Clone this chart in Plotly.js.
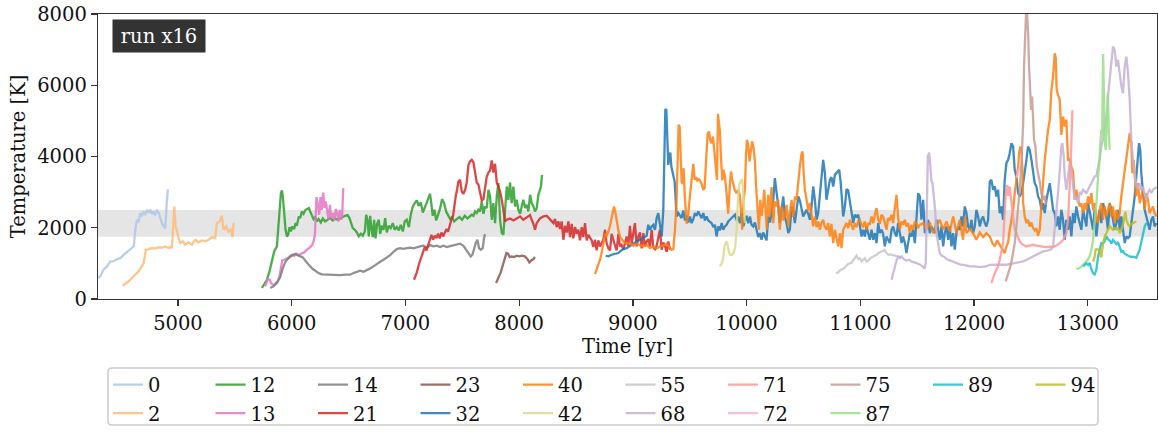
<!DOCTYPE html>
<html>
<head>
<meta charset="utf-8">
<script src="https://cdn.plot.ly/plotly-3.0.1.min.js"></script>
<style>
  html, body { margin: 0; padding: 0; background: #fff; }
  #chart { width: 1158px; height: 434px; }
</style>
</head>
<body>
<div id="chart"></div>
<script>
// Temperature histories of the individual runs: [time (yr), temperature (K)]
const s0 = [[4302,590],[4320,650],[4345,820],[4376,915],[4405,1055],[4435,1060],[4465,1120],[4495,1150],[4522,1240],[4550,1320],[4575,1400],[4595,1430],[4612,1480],[4625,1940],[4639,2220],[4654,2180],[4669,2410],[4684,2350],[4698,2440],[4713,2380],[4728,2500],[4742,2420],[4757,2510],[4771,2380],[4786,2460],[4800,2350],[4815,2500],[4830,2430],[4845,2250],[4859,2130],[4874,2040],[4888,1990],[4903,2780],[4912,3080]];
const s2 = [[4513,373],[4540,430],[4566,495],[4595,588],[4625,682],[4654,775],[4683,915],[4698,1009],[4713,1290],[4718,1383],[4742,1400],[4771,1430],[4800,1420],[4830,1450],[4860,1440],[4888,1476],[4918,1430],[4935,1460],[4947,1430],[4956,2037],[4968,2598],[4979,2037],[4991,1850],[5006,1710],[5020,1570],[5044,1617],[5064,1523],[5093,1590],[5123,1523],[5152,1663],[5181,1590],[5211,1645],[5240,1617],[5269,1663],[5299,1738],[5328,1710],[5342,2130],[5366,2177],[5386,2336],[5401,1944],[5424,2037],[5445,1897],[5465,1944],[5480,1738],[5489,2112],[5497,2130]];
const s12 = [[5738,308],[5758,401],[5782,541],[5805,775],[5826,1102],[5846,1336],[5870,1476],[5884,2037],[5893,2504],[5905,2971],[5914,3046],[5922,2878],[5934,2411],[5946,1943],[5958,1756],[5969,1803],[5981,2018],[5993,1896],[6004,2037],[6022,1962],[6034,2130],[6045,2055],[6063,2317],[6075,2271],[6089,2457],[6104,2392],[6122,2504],[6139,2523],[6151,2551],[6163,2457],[6177,2364],[6192,2243],[6207,2299],[6221,2177],[6236,2243],[6256,2149],[6274,2261],[6294,2177],[6315,2224],[6338,2271],[6362,2205],[6382,2261],[6403,2224],[6426,2271],[6450,2299],[6470,2336],[6491,2355],[6508,2271],[6523,2130],[6537,1990],[6555,1943],[6573,1868],[6590,1756],[6608,1831],[6625,1775],[6643,1896],[6655,2364],[6666,2224],[6678,1756],[6690,2336],[6701,1990],[6713,1738],[6725,2224],[6737,1700],[6751,2111],[6766,2224],[6778,1831],[6792,2055],[6807,1943],[6822,2271],[6836,1868],[6854,2055],[6871,1990],[6889,2130],[6906,1943],[6924,2018],[6942,1925],[6959,2084],[6977,1896],[6994,2177],[7012,2224],[7030,2018],[7047,2364],[7065,2598],[7082,2691],[7100,2766],[7117,2616],[7135,2710],[7153,2429],[7170,2598],[7188,2710],[7205,2859],[7217,2953],[7229,2644],[7240,2336],[7255,2504],[7270,2205],[7287,2364],[7305,2551],[7322,2803],[7340,2691],[7358,2457],[7375,2336],[7393,2243],[7410,2299],[7428,2177],[7451,2243],[7475,2299],[7498,2224],[7522,2336],[7545,2261],[7568,2317],[7583,2364],[7598,2336],[7612,2457],[7627,2411],[7642,2504],[7656,2457],[7671,2738],[7686,2392],[7700,2598],[7715,2551],[7730,3065],[7744,2878],[7759,2224],[7773,2691],[7788,2130],[7803,2878],[7817,3252],[7832,2224],[7847,1850],[7861,1803],[7876,2598],[7891,3158],[7905,2785],[7920,3271],[7934,2691],[7949,3158],[7964,2598],[7978,2785],[7993,2504],[8008,2392],[8022,2598],[8037,2785],[8052,2551],[8066,2644],[8081,2457],[8096,2925],[8110,2691],[8125,2598],[8139,2457],[8154,2551],[8169,2925],[8183,3065],[8192,3158],[8201,3486]];
const s13 = [[5767,354],[5788,560],[5805,541],[5823,429],[5840,392],[5858,448],[5875,495],[5893,635],[5905,868],[5917,1083],[5934,1102],[5952,1121],[5969,1149],[5987,1214],[6004,1242],[6022,1214],[6040,1270],[6057,1242],[6075,1252],[6092,1289],[6110,1308],[6127,1364],[6145,1401],[6163,1457],[6180,1513],[6192,1616],[6204,1803],[6212,2224],[6218,2859],[6230,2644],[6242,2364],[6253,2859],[6265,2504],[6277,2990],[6289,2551],[6300,2738],[6312,2457],[6324,2224],[6336,2644],[6347,2271],[6362,2411],[6376,2205],[6388,2523],[6400,2411],[6412,2177],[6423,2504],[6435,2224],[6444,2317],[6453,3112]];
const s14 = [[5811,308],[5840,354],[5870,448],[5899,616],[5922,868],[5943,1027],[5963,1121],[5987,1196],[6010,1242],[6031,1261],[6051,1233],[6075,1196],[6098,1168],[6119,1083],[6139,990],[6163,915],[6186,841],[6209,784],[6236,728],[6265,691],[6303,682],[6338,672],[6382,682],[6426,672],[6470,682],[6514,682],[6543,728],[6573,766],[6602,794],[6631,766],[6660,803],[6690,859],[6719,915],[6748,990],[6778,1046],[6807,1102],[6836,1158],[6866,1233],[6895,1326],[6924,1401],[6953,1429],[6983,1410],[7012,1429],[7041,1439],[7071,1420],[7100,1457],[7129,1476],[7159,1495],[7188,1439],[7217,1513],[7246,1476],[7276,1495],[7305,1457],[7334,1495],[7364,1457],[7393,1485],[7422,1504],[7451,1532],[7481,1551],[7510,1495],[7533,1382],[7554,1289],[7574,1196],[7589,1242],[7604,1429],[7618,1569],[7633,1663],[7647,1429],[7662,1382],[7680,1429],[7691,1710],[7700,1822]];
const s21 = [[7076,541],[7100,747],[7120,990],[7138,1149],[7156,1289],[7170,1457],[7185,1364],[7199,1523],[7214,1644],[7229,1803],[7243,1663],[7258,1775],[7273,1710],[7287,1831],[7302,1700],[7317,1868],[7331,1756],[7346,1868],[7361,1962],[7375,1887],[7390,2111],[7404,2224],[7419,2336],[7431,2644],[7443,2897],[7454,3065],[7466,3299],[7481,3345],[7495,3018],[7510,2953],[7525,3065],[7539,3271],[7554,3766],[7568,3860],[7583,3906],[7598,3831],[7612,3579],[7627,3271],[7642,3205],[7656,2971],[7671,2766],[7686,2803],[7700,3177],[7715,3439],[7730,3551],[7744,3607],[7759,3888],[7773,3551],[7788,3794],[7803,3271],[7817,3158],[7832,3018],[7847,2785],[7861,2485],[7876,2177],[7891,2224],[7920,2261],[7949,2205],[7978,2261],[8008,2317],[8037,2224],[8066,2299],[8096,2355],[8110,2224],[8125,2111],[8139,1943],[8154,2130],[8183,2261],[8213,2317],[8242,2336],[8271,2224],[8301,2130],[8315,2243],[8330,2018],[8345,2177],[8359,1962],[8374,2177],[8389,1663],[8403,2055],[8418,1868],[8433,2177],[8447,1738],[8462,2111],[8476,1700],[8491,2018],[8506,1831],[8520,1943],[8535,1644],[8550,2018],[8564,1738],[8579,2130],[8594,1644],[8608,1803],[8623,1738],[8638,1644],[8652,1457],[8667,1663],[8681,1364],[8696,1644],[8711,1476],[8725,1569],[8740,1663],[8755,1943],[8769,1569],[8784,1429],[8799,1364],[8813,1831],[8828,1616],[8843,1495],[8857,1364],[8872,1831],[8886,1476],[8901,1523],[8916,1382],[8930,1616],[8945,1756],[8960,1476],[8974,2055],[8989,1551],[9004,1850],[9018,2130],[9033,1476],[9048,1756],[9062,1868],[9077,1420],[9092,1850],[9106,1476],[9121,1616],[9135,1682],[9150,1476],[9165,1943],[9179,1457],[9194,1401],[9209,1495],[9223,1756],[9238,1943],[9253,1382],[9267,1588],[9282,1476],[9297,1326],[9311,1616],[9326,1382]];
const s23 = [[7797,448],[7817,588],[7838,747],[7855,934],[7873,1149],[7888,1289],[7902,1270],[7917,1177],[7934,1196],[7955,1177],[7978,1214],[8002,1196],[8025,1214],[8049,1196],[8072,1121],[8090,1027],[8107,1083],[8125,1121],[8139,1177]];
const s32 = [[8761,1214],[8784,1196],[8813,1242],[8843,1270],[8872,1289],[8887,1336],[8916,1401],[8945,1429],[8974,1495],[9004,1569],[9033,1616],[9062,1663],[9092,1710],[9121,1775],[9135,2083],[9150,1943],[9165,2037],[9179,2083],[9194,1943],[9209,2271],[9223,2411],[9238,2130],[9253,1756],[9267,2485],[9276,3999],[9285,5308],[9294,5327],[9302,4654],[9311,3766],[9320,3999],[9329,4112],[9338,3719],[9346,3579],[9355,3392],[9367,3299],[9376,2785],[9384,2317],[9399,2411],[9414,2336],[9428,2271],[9443,2485],[9458,2205],[9472,2336],[9487,2149],[9502,2317],[9516,2130],[9531,2243],[9546,2411],[9560,2336],[9575,2457],[9589,2364],[9604,2271],[9619,2411],[9633,2205],[9648,2317],[9663,2205],[9677,2168],[9692,2130],[9707,2018],[9721,2083],[9736,1756],[9751,2037],[9765,1925],[9780,2130],[9794,1943],[9809,2037],[9824,2083],[9838,2177],[9853,2224],[9868,2271],[9882,2317],[9897,2364],[9912,2205],[9926,2317],[9941,2130],[9956,2411],[9970,2037],[9985,2224],[9999,2336],[10014,2130],[10029,2317],[10043,2083],[10058,2037],[10073,2149],[10087,1943],[10102,1738],[10117,1850],[10131,1663],[10146,1868],[10161,1756],[10175,1644],[10190,2317],[10205,2149],[10219,2411],[10234,2785],[10248,3392],[10263,3065],[10278,2598],[10292,2130],[10307,2504],[10322,2878],[10336,2317],[10351,2130],[10366,1850],[10380,1943],[10395,2598],[10410,2485],[10424,2130],[10439,2504],[10454,2878],[10468,2766],[10483,2504],[10497,2317],[10512,2411],[10527,2504],[10541,2392],[10556,2224],[10571,2598],[10585,3158],[10600,2785],[10615,2224],[10629,2411],[10644,2878],[10659,3532],[10673,3906],[10688,3532],[10702,2785],[10717,3065],[10732,3345],[10746,3420],[10761,3158],[10776,3486],[10790,3532],[10805,3579],[10814,3626],[10826,3299],[10837,2878],[10849,2317],[10864,2598],[10878,3084],[10893,3046],[10908,2766],[10922,2485],[10937,2130],[10951,2364],[10966,2317],[10981,2364],[10995,2037],[11010,1756],[11025,1943],[11039,1756],[11054,2037],[11069,1850],[11083,1663],[11098,1943],[11113,1663],[11127,1850],[11142,1569],[11157,2130],[11171,1850],[11186,1943],[11200,1831],[11215,1476],[11230,1756],[11244,1663],[11259,1569],[11274,1943],[11288,2037],[11303,1850],[11318,1756],[11332,2130],[11347,1850],[11362,1569],[11376,1756],[11391,1569],[11405,1289],[11420,1569],[11435,1850],[11449,1756],[11464,1943],[11479,1569],[11493,2317],[11508,2971],[11523,2878],[11537,2224],[11552,2785],[11567,1850],[11581,2037],[11596,2224],[11610,1850],[11625,2037],[11640,1943],[11654,1850],[11669,2224],[11684,1943],[11698,1663],[11713,2037],[11728,1476],[11742,1850],[11757,2037],[11772,1663],[11786,2037],[11801,1476],[11816,1850],[11830,1383],[11845,1850],[11859,2037],[11874,1943],[11889,2317],[11903,2037],[11918,2598],[11933,2411],[11947,2037],[11962,1943],[11977,2224],[11991,1850],[12006,2037],[12020,2504],[12035,2317],[12050,2037],[12064,2224],[12079,2317],[12094,2130],[12108,2037],[12123,2224],[12130,2800],[12138,3300],[12152,3345],[12167,3065],[12182,3158],[12196,2878],[12211,3065],[12225,2411],[12240,2597],[12255,2224],[12261,2691],[12269,3345],[12284,3812],[12299,3906],[12313,4093],[12328,4373],[12343,4280],[12349,3906],[12357,3626],[12372,3439],[12387,2971],[12401,2878],[12416,2971],[12431,3252],[12445,3532],[12460,3906],[12474,4280],[12489,4186],[12504,3906],[12518,3532],[12533,3252],[12548,3158],[12562,2878],[12577,2784],[12592,2504],[12606,2691],[12621,2411],[12636,2784],[12650,3065],[12665,3252],[12680,2878],[12694,2504],[12709,2411],[12723,2037],[12738,2317],[12753,1943],[12767,2504],[12782,2224],[12797,1663],[12811,2224],[12826,1943],[12840,2317],[12855,1756],[12870,2411],[12884,2130],[12899,2597],[12914,2317],[12929,2130],[12943,1943],[12958,2504],[12972,2224],[12987,2037],[13002,2691],[13016,2411],[13031,2224],[13046,1943],[13060,2504],[13075,1756],[13090,2224],[13104,2504],[13119,2130],[13134,2691],[13148,2504],[13163,2317],[13177,1943],[13192,2691],[13207,2504],[13221,2224],[13236,1943],[13251,2130],[13265,2504],[13280,1943],[13294,2317],[13309,1943],[13324,1569],[13338,1756],[13353,1710],[13368,1756],[13382,2130],[13397,2504],[13412,2878],[13426,3439],[13441,3906],[13450,4373],[13461,4186],[13470,3532],[13485,2971],[13500,2504],[13514,2317],[13529,2130],[13543,1943],[13558,2224],[13573,2317],[13587,2037],[13602,2130]];
const s40 = [[8667,700],[8681,822],[8696,934],[8711,1102],[8725,1289],[8740,1616],[8755,1831],[8769,1775],[8784,1887],[8799,2055],[8813,2271],[8825,2551],[8834,2598],[8845,2457],[8857,2177],[8872,1925],[8886,1756],[8916,1616],[8945,1551],[8974,1569],[9004,1495],[9033,1551],[9062,1513],[9092,1476],[9121,1523],[9150,1429],[9179,1476],[9209,1420],[9238,1476],[9267,1495],[9297,1551],[9320,1476],[9340,1382],[9355,1401],[9370,1943],[9384,2785],[9393,4000],[9402,4888],[9411,4841],[9420,4000],[9428,3299],[9437,3233],[9446,3672],[9455,2971],[9464,2411],[9472,2111],[9484,2317],[9496,2785],[9507,3158],[9519,3439],[9531,3794],[9543,3345],[9554,3420],[9566,3327],[9578,3364],[9589,3327],[9604,3233],[9619,3065],[9630,3112],[9639,3719],[9648,4373],[9657,4635],[9669,4701],[9680,4467],[9692,4373],[9704,4560],[9715,4186],[9727,3626],[9739,3345],[9748,5196],[9756,5028],[9765,4701],[9774,4000],[9786,3327],[9797,3626],[9809,3439],[9821,3065],[9830,2691],[9838,2392],[9850,3065],[9862,3579],[9874,3345],[9885,3158],[9897,3046],[9912,2971],[9926,3065],[9941,2897],[9953,2130],[9961,1943],[9973,2785],[9985,3065],[9994,4000],[10002,4467],[10014,4327],[10026,3859],[10038,4186],[10049,4420],[10061,4233],[10073,3859],[10084,3112],[10096,2317],[10108,1943],[10120,2785],[10131,2336],[10143,2598],[10155,3065],[10166,2504],[10178,1943],[10190,2925],[10202,2317],[10219,3140],[10234,2130],[10248,2738],[10263,2598],[10278,2785],[10292,1943],[10307,2598],[10322,2205],[10336,2336],[10351,2644],[10366,2037],[10380,2504],[10395,2785],[10410,2299],[10424,2878],[10439,2785],[10454,3364],[10468,3738],[10483,4074],[10492,4140],[10500,3626],[10512,3065],[10527,2785],[10541,2485],[10556,2691],[10571,2299],[10585,2037],[10600,2317],[10615,2018],[10629,2177],[10644,1943],[10659,2149],[10673,2224],[10688,2018],[10702,1943],[10717,2130],[10732,1756],[10746,2111],[10761,1569],[10776,1943],[10790,1756],[10805,1476],[10820,1850],[10834,1429],[10849,1943],[10864,2037],[10878,2130],[10893,1990],[10908,2224],[10922,2083],[10937,1943],[10951,2130],[10966,2018],[10981,2177],[10995,2224],[11010,2083],[11025,2037],[11039,2177],[11054,1943],[11069,2130],[11083,2083],[11098,2317],[11113,2130],[11127,2364],[11142,2551],[11157,2224],[11171,2111],[11186,2364],[11200,2317],[11215,2130],[11230,1943],[11244,2271],[11259,2224],[11274,2364],[11288,2130],[11303,2551],[11318,2925],[11332,2271],[11347,1943],[11362,2177],[11376,2083],[11391,2224],[11405,2037],[11420,2130],[11435,1850],[11449,2083],[11464,1943],[11479,2177],[11493,2130],[11508,1990],[11523,2083],[11552,2130],[11581,1943],[11610,2149],[11640,1850],[11669,2037],[11698,2224],[11728,1943],[11757,2177],[11786,1897],[11816,2317],[11845,1850],[11874,2224],[11903,1663],[11918,2317],[11933,1850],[11962,1962],[11991,1850],[12020,1663],[12050,1869],[12079,1738],[12108,1850],[12138,1756],[12161,1569],[12182,1476],[12202,1644],[12225,1523],[12249,1382],[12269,1289],[12284,1476],[12299,1588],[12313,1943],[12328,2224],[12343,2504],[12357,2971],[12372,3345],[12387,3719],[12395,4093],[12407,4280],[12416,4186],[12425,3626],[12431,2691],[12445,2317],[12460,2130],[12474,2224],[12489,2037],[12504,2149],[12518,1990],[12533,1924],[12548,1990],[12562,1775],[12577,1943],[12592,2504],[12606,3252],[12621,3906],[12636,4373],[12650,4747],[12665,5028],[12680,5869],[12694,6243],[12709,6898],[12718,6757],[12726,5869],[12738,5729],[12753,5589],[12767,4607],[12782,5122],[12797,4841],[12811,5028],[12826,3906],[12841,3925],[12855,3719],[12870,3579],[12885,2785],[12899,3065],[12914,2785],[12929,2598],[12943,2691],[12958,2411],[12972,2691],[12987,2504],[13002,2878],[13016,2672],[13031,2971],[13046,2504],[13060,2691],[13075,2317],[13090,2130],[13104,2504],[13119,2691],[13134,2224],[13148,2597],[13163,2317],[13177,2504],[13192,2691],[13207,2299],[13221,2597],[13236,2130],[13251,2504],[13265,2224],[13280,2411],[13294,2878],[13309,3252],[13324,3626],[13338,3999],[13353,4373],[13368,4654],[13382,4373],[13391,3532],[13403,3906],[13412,3345],[13426,2878],[13441,3252],[13456,2691],[13470,2878],[13485,3065],[13500,2504],[13514,2971],[13529,2784],[13543,2411],[13558,2504],[13573,2597],[13587,2411],[13602,2317]];
const s42 = [[9765,915],[9780,990],[9794,1149],[9806,1476],[9818,1616],[9830,1569],[9841,1364],[9853,1242],[9871,1233],[9888,1308],[9900,1476],[9912,1943],[9923,2785],[9935,3205],[9947,3299],[9959,3364],[9967,3158],[9976,2598],[9985,2130]];
const s55 = [[10785,728],[10805,747],[10826,822],[10849,840],[10872,915],[10896,990],[10919,1009],[10937,1083],[10951,1149],[10966,1214],[10981,1121],[10995,1149],[11010,1055],[11025,1102],[11039,1149],[11054,1055],[11072,1083],[11089,1149],[11107,1177],[11124,1214],[11142,1242],[11159,1289],[11177,1308],[11195,1345],[11212,1382],[11230,1289],[11247,1242],[11265,1252],[11288,1233],[11312,1214],[11335,1196],[11353,1177]];
const s68 = [[11274,541],[11288,682],[11303,897],[11318,1083],[11332,1177],[11347,1149],[11362,1196],[11382,1121],[11405,1083],[11429,1102],[11452,1046],[11476,1027],[11499,1009],[11523,971],[11546,915],[11564,859],[11575,1009],[11584,2317],[11593,4000],[11605,4112],[11616,3720],[11625,3299],[11634,3252],[11646,2878],[11657,2504],[11669,1850],[11684,1476],[11698,1289],[11716,1214],[11733,1196],[11757,1121],[11786,1083],[11816,1027],[11845,1009],[11874,971],[11918,953],[11962,915],[12006,915],[12050,897],[12108,915],[12138,960],[12211,962],[12284,962],[12357,1009],[12431,1055],[12474,1121],[12518,1196],[12562,1270],[12606,1336],[12650,1364],[12680,1401],[12694,1476],[12709,1943],[12723,2504],[12738,2971],[12753,3626],[12767,4280],[12776,4373],[12788,4000],[12797,3439],[12811,3065],[12826,3439],[12840,3812],[12855,3626],[12870,3065],[12884,2784],[12899,2878],[12914,2691],[12929,3000],[12943,2950],[12958,3065],[12987,2971],[13016,3158],[13046,3345],[13060,3439],[13075,3450],[13090,3700],[13104,3950],[13119,4300],[13134,4500],[13148,4800],[13163,5100],[13177,5700],[13192,6243],[13207,6711],[13221,7085],[13236,6991],[13251,6524],[13265,6711],[13280,6243],[13295,5963],[13309,5776],[13324,6524],[13339,6804],[13353,6337],[13368,5589],[13382,4467],[13397,3906],[13412,3439],[13426,3158],[13441,3100],[13456,3250],[13470,3060],[13485,3150],[13500,2950],[13514,2784],[13529,3000],[13543,3065],[13558,2980],[13573,3070],[13587,3100],[13602,3150]];
const s71 = [[12152,448],[12167,600],[12182,728],[12196,820],[12211,915],[12225,1100],[12240,1300],[12255,1570],[12262,2000],[12269,2504],[12277,2900],[12284,3065],[12291,3200],[12299,2900],[12306,3100],[12313,3158],[12321,2900],[12328,2691],[12343,2224],[12357,1950],[12372,1850],[12387,1700],[12401,1616],[12416,1560],[12431,1522],[12460,1476],[12489,1500],[12518,1522],[12548,1500],[12577,1476],[12606,1470],[12636,1457],[12665,1470],[12694,1460],[12723,1500],[12753,1570],[12767,1600],[12782,1663],[12797,1750],[12811,1850],[12826,2224],[12840,2971],[12848,3700],[12855,4373],[12864,5300]];
const s72 = [[12372,3400],[12384,3560],[12395,3640],[12407,3720]];
const s75 = [[12278,494],[12299,728],[12319,915],[12337,1195],[12357,1570],[12372,2037],[12387,2504],[12401,3065],[12416,3800],[12431,4900],[12439,6524],[12448,7458],[12457,8060],[12466,8000],[12475,7458],[12483,6524],[12492,5589],[12501,5308],[12510,5682],[12518,5122],[12527,4467],[12539,4280],[12551,3720],[12562,3533],[12577,3300],[12592,2950],[12606,2785],[12620,2900],[12632,2650]];
const s87 = [[12899,841],[12928,868],[12958,962],[12987,1055],[13016,1195],[13031,1383],[13046,1663],[13060,2130],[13075,2691],[13090,3439],[13104,3906],[13110,4373],[13119,4747],[13126,4600],[13130,5800],[13134,6880],[13140,6000],[13148,4400],[13157,4187],[13165,4900],[13177,5776],[13184,4700],[13192,4187]];
const s89 = [[12958,915],[12972,960],[12987,1000],[13002,960],[13016,1010],[13031,830],[13046,730],[13060,690],[13075,820],[13090,1195],[13104,1383],[13119,1570],[13134,1560],[13148,1620],[13163,1756],[13177,1680],[13192,1640],[13207,1560],[13221,1660],[13236,1600],[13251,1540],[13265,1600],[13280,1420],[13294,1330],[13309,1350],[13324,1270],[13339,1242],[13353,1210],[13368,1195],[13382,1180],[13397,1190],[13412,1177],[13426,1160],[13441,1270],[13456,1383],[13470,1600],[13485,1850],[13500,2037],[13514,2130]];
const s94 = [[13046,1050],[13060,1195],[13068,1383],[13075,1400],[13090,1383],[13104,1380],[13112,1200],[13119,1195],[13134,1570],[13148,1756],[13163,1850],[13177,1943],[13192,2050],[13207,1990],[13221,1943],[13236,1990],[13251,1950],[13265,2000],[13280,1850],[13294,1950],[13309,2084],[13324,2350],[13331,2450],[13339,2223],[13353,2100],[13368,2037],[13382,2100],[13397,2130],[13412,2150],[13426,2177]];

// Run labels, series and colours (tab20 palette)
const runLabels = ['0','2','12','13','14','21','23','32','40','42','55','68','71','72','75','87','89','94'];
const runSeries = [s0,s2,s12,s13,s14,s21,s23,s32,s40,s42,s55,s68,s71,s72,s75,s87,s89,s94];
const runColors = ['#aec7e8','#ffbb78','#2ca02c','#e377c2','#7f7f7f','#d62728','#8c564b','#1f77b4','#ff7f0e','#dbdb8d','#c7c7c7','#c5b0d5','#ff9896','#f7b6d2','#c49c94','#98df8a','#17becf','#bcbd22'];
// Legend fills column by column (two rows, ten columns)
const legendOrder = ['0','12','14','23','40','55','71','75','89','94','2','13','21','32','42','68','72','87'];

// Shaded reference temperature band [K]
const bandLow = 1750, bandHigh = 2500;
const xTicks = [5000,6000,7000,8000,9000,10000,11000,12000,13000];
const yTicks = [0,2000,4000,6000,8000];

const FONT = 'DejaVu Serif, serif';
const FS = 19.5;

// Plot area in pixels, used to place the legend frame below the axes
const PLOT_W = 1158 - 98 - 1, PLOT_H = 434 - 14 - 135;
const px2x = p => (p - 98) / PLOT_W;
const px2y = p => (434 - 135 - p) / PLOT_H;

// Rounded legend frame as an SVG path in paper coordinates
function roundedFrame(l, t, r, b, rad) {
  const x0 = px2x(l), x1 = px2x(r), y0 = px2y(b), y1 = px2y(t);
  const dx = rad / PLOT_W, dy = rad / PLOT_H;
  return `M ${x0 + dx},${y1} L ${x1 - dx},${y1} Q ${x1},${y1} ${x1},${y1 - dy} ` +
         `L ${x1},${y0 + dy} Q ${x1},${y0} ${x1 - dx},${y0} ` +
         `L ${x0 + dx},${y0} Q ${x0},${y0} ${x0},${y0 + dy} ` +
         `L ${x0},${y1 - dy} Q ${x0},${y1} ${x0 + dx},${y1} Z`;
}

const traces = runSeries.map((s, i) => ({
  type: 'scatter',
  mode: 'lines',
  name: runLabels[i],
  x: s.map(p => p[0]),
  y: s.map(p => p[1]),
  line: { color: runColors[i], width: 2.3 },
  opacity: 0.85,
  legendrank: legendOrder.indexOf(runLabels[i]) + 1,
  hoverinfo: 'skip'
}));

const axisCommon = {
  showgrid: false,
  zeroline: false,
  showline: true,
  mirror: true,
  linecolor: '#333333',
  linewidth: 1.3,
  ticks: 'outside',
  ticklen: 6,
  tickwidth: 1.3,
  tickcolor: '#333333',
  tickfont: { family: FONT, size: FS, color: '#111' }
};

const layout = {
  width: 1158,
  height: 434,
  margin: { l: 98, r: 1, t: 14, b: 135, autoexpand: false },
  paper_bgcolor: '#ffffff',
  plot_bgcolor: '#ffffff',
  font: { family: FONT, size: FS, color: '#111' },
  showlegend: true,
  xaxis: Object.assign({}, axisCommon, {
    range: [4297, 13608],
    tickmode: 'array',
    tickvals: xTicks,
    ticktext: xTicks.map(String),
    title: { text: 'Time [yr]', font: { family: FONT, size: FS, color: '#111' }, standoff: 4 }
  }),
  yaxis: Object.assign({}, axisCommon, {
    range: [0, 8000],
    tickmode: 'array',
    tickvals: yTicks,
    ticktext: yTicks.map(String),
    title: { text: 'Temperature [K]', font: { family: FONT, size: FS, color: '#111' }, standoff: 6 }
  }),
  shapes: [
    {
      type: 'rect', xref: 'paper', yref: 'y',
      x0: 0, x1: 1, y0: bandLow, y1: bandHigh,
      fillcolor: 'rgba(0,0,0,0.1)', line: { width: 0 }, layer: 'below'
    },
    {
      type: 'path', xref: 'paper', yref: 'paper',
      path: roundedFrame(108, 368, 1098, 425, 4),
      fillcolor: 'rgba(255,255,255,0.8)',
      line: { color: '#cccccc', width: 1.5 }
    }
  ],
  annotations: [{
    xref: 'paper', yref: 'paper', x: px2x(112), y: px2y(19),
    xanchor: 'left', yanchor: 'top', showarrow: false,
    text: 'run x16',
    width: 92, height: 32, borderpad: 0,
    font: { family: FONT, size: FS, color: '#ffffff' },
    bgcolor: '#333333'
  }],
  legend: {
    orientation: 'h',
    x: px2x(108), xanchor: 'left',
    y: px2y(365.5), yanchor: 'top',
    bgcolor: 'rgba(0,0,0,0)',
    borderwidth: 0,
    entrywidth: 57.5,
    entrywidthmode: 'pixels',
    traceorder: 'normal',
    font: { family: FONT, size: FS, color: '#111' }
  }
};

Plotly.newPlot('chart', traces, layout, { displayModeBar: false, staticPlot: true });
</script>
</body>
</html>
